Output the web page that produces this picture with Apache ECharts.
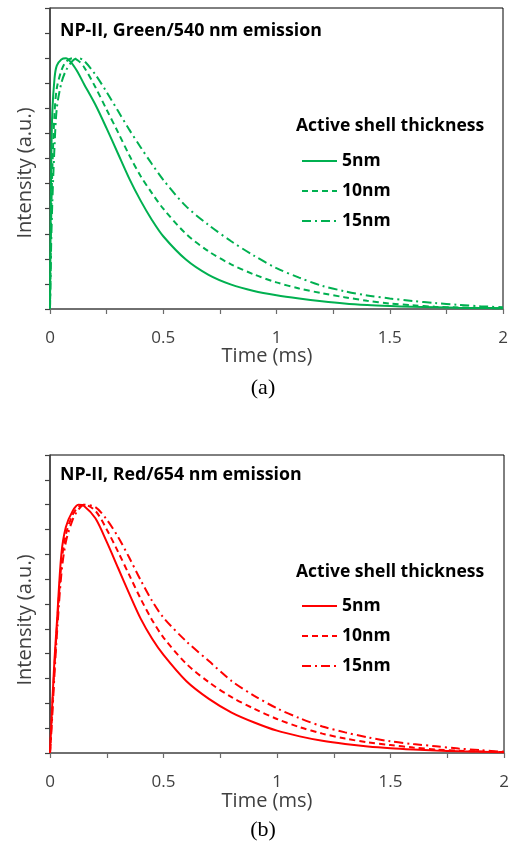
<!DOCTYPE html>
<html>
<head>
<meta charset="utf-8">
<script src="https://cdn.jsdelivr.net/npm/echarts@6/dist/echarts.min.js"></script>
<style>
html,body{margin:0;padding:0;background:#fff;}
#chart{width:514px;height:849px;}
</style>
</head>
<body>
<div id="chart"></div>
<script>
// ---- Data (time in ms, intensity normalized) ----
var timeMs = [0, 0.005, 0.01, 0.02, 0.03, 0.05, 0.07, 0.1, 0.125, 0.15, 0.2, 0.25, 0.3, 0.35, 0.4, 0.45, 0.5, 0.6, 0.7, 0.8, 0.9, 1.0, 1.1, 1.2, 1.3, 1.4, 1.5, 1.6, 1.7, 1.8, 1.9, 2.0];

var green5nm  = [0, 0.55, 0.78, 0.92, 0.97, 0.995, 1.0, 0.975, 0.94, 0.897, 0.815, 0.72, 0.62, 0.52, 0.432, 0.355, 0.29, 0.197, 0.136, 0.097, 0.072, 0.055, 0.042, 0.031, 0.022, 0.016, 0.012, 0.009, 0.007, 0.005, 0.004, 0.003];
var green10nm = [0, 0.35, 0.55, 0.78, 0.88, 0.95, 0.985, 1.0, 0.99, 0.965, 0.885, 0.795, 0.705, 0.613, 0.53, 0.462, 0.40, 0.30, 0.23, 0.178, 0.138, 0.106, 0.082, 0.063, 0.047, 0.033, 0.022, 0.015, 0.009, 0.006, 0.004, 0.003];
var green15nm = [0, 0.25, 0.42, 0.65, 0.80, 0.90, 0.95, 0.99, 1.0, 0.99, 0.935, 0.865, 0.79, 0.715, 0.645, 0.578, 0.515, 0.41, 0.335, 0.27, 0.213, 0.163, 0.125, 0.093, 0.071, 0.054, 0.042, 0.032, 0.024, 0.017, 0.011, 0.007];

var red5nm  = [0, 0.1, 0.2, 0.38, 0.52, 0.8, 0.91, 0.975, 1.0, 0.995, 0.945, 0.85, 0.745, 0.64, 0.54, 0.46, 0.395, 0.29, 0.218, 0.163, 0.123, 0.09, 0.067, 0.049, 0.036, 0.026, 0.019, 0.014, 0.010, 0.007, 0.005, 0.003];
var red10nm = [0, 0.09, 0.18, 0.35, 0.50, 0.76, 0.88, 0.96, 0.99, 1.0, 0.975, 0.90, 0.81, 0.715, 0.62, 0.535, 0.465, 0.36, 0.285, 0.225, 0.178, 0.137, 0.104, 0.078, 0.058, 0.043, 0.032, 0.022, 0.014, 0.009, 0.006, 0.004];
var red15nm = [0, 0.07, 0.15, 0.32, 0.47, 0.72, 0.85, 0.94, 0.98, 1.0, 0.99, 0.94, 0.87, 0.785, 0.695, 0.612, 0.545, 0.45, 0.37, 0.29, 0.23, 0.18, 0.14, 0.107, 0.083, 0.063, 0.047, 0.036, 0.027, 0.018, 0.011, 0.005];

var seriesNames = ['5nm', '10nm', '15nm'];
var panelTitles = ['NP-II, Green/540 nm emission', 'NP-II, Red/654 nm emission'];
var panelLabels = ['(a)', '(b)'];
var legendTitle = 'Active shell thickness';
var xAxisName = 'Time (ms)';
var yAxisName = 'Intensity (a.u.)';

// ---- Styling ----
var GREEN = '#00B050', RED = '#FF0000';
var dashTypes = ['solid', [6, 4], [9, 4, 2, 4]];
function pairs(vals){ return timeMs.map(function(t,i){ return [t, vals[i]]; }); }

var chart = echarts.init(document.getElementById('chart'), null, {renderer:'canvas'});

var grids = [
  {left:50, top:8, width:453, height:301, show:true, borderColor:'#000', borderWidth:1},
  {left:50, top:455, width:454, height:298, show:true, borderColor:'#000', borderWidth:1}
];

function xAx(gi){
  return {
    type:'value', gridIndex:gi, min:0, max:2, interval:0.5,
    axisLine:{show:true, onZero:false, lineStyle:{color:'#6b6b6b', width:1.5}},
    axisTick:{show:true, inside:false, length:5, lineStyle:{color:'#6b6b6b', width:1.2}},
    minorTick:{show:true, splitNumber:2, length:5, lineStyle:{color:'#6b6b6b', width:1.2}},
    axisLabel:{show:true, margin:21, color:'#404040', fontFamily:'Open Sans', fontSize:17,
      formatter:function(v){ return String(v); }},
    splitLine:{show:false}, minorSplitLine:{show:false}
  };
}
function yAx(gi){
  return {
    type:'value', gridIndex:gi, min:0, max:1.2, interval:0.1,
    axisLine:{show:true, onZero:false, lineStyle:{color:'#404040', width:1.5}},
    axisTick:{show:true, inside:false, length:5, lineStyle:{color:'#404040', width:1.2}},
    axisLabel:{show:false}, splitLine:{show:false}
  };
}

var panels = [
  {color:GREEN, data:[green5nm, green10nm, green15nm], prefix:'G '},
  {color:RED, data:[red5nm, red10nm, red15nm], prefix:'R '}
];

var series = [];
panels.forEach(function(p, gi){
  p.data.forEach(function(vals, si){
    series.push({
      name: p.prefix + seriesNames[si],
      type:'line', xAxisIndex:gi, yAxisIndex:gi,
      data: pairs(vals), symbol:'none', showSymbol:false,
      smooth:0.3,
      lineStyle:{color:p.color, width:2, type:dashTypes[si]},
      itemStyle:{color:p.color},
      z: 3 - si
    });
  });
});

var legendCommon = {
  orient:'vertical', left:296, itemWidth:35, itemHeight:14, itemGap:12,
  selectedMode:false,
  itemStyle:{color:'transparent', borderColor:'transparent', borderWidth:0},
  formatter:function(n){ return n.slice(2); },
  textStyle:{color:'#000', fontFamily:'Open Sans', fontWeight:'bold', fontSize:17.5, padding:[0,0,0,0]}
};
var legends = [
  Object.assign({}, legendCommon, {top:147, data:seriesNames.map(function(n){return 'G '+n;})}),
  Object.assign({}, legendCommon, {top:592, data:seriesNames.map(function(n){return 'R '+n;})})
];

function txt(x, y, text, opts){
  return {type:'text', x:x, y:y, rotation:opts.rotation||0, z:10,
    style:Object.assign({text:text, fill:'#000', textAlign:opts.align||'left', textVerticalAlign:'middle',
      fontFamily:'Open Sans', fontSize:17, fontWeight:'normal'}, opts.style||{})};
}

var graphics = [
  txt(60, 31, panelTitles[0], {style:{fontWeight:'bold', fontSize:17.8}}),
  txt(60, 475, panelTitles[1], {style:{fontWeight:'bold', fontSize:17.8}}),
  txt(296, 126, legendTitle, {style:{fontWeight:'bold', fontSize:17.5}}),
  txt(296, 572, legendTitle, {style:{fontWeight:'bold', fontSize:17.5}}),
  txt(267, 356, xAxisName, {align:'center', style:{fontSize:20, fill:'#404040'}}),
  txt(267, 801, xAxisName, {align:'center', style:{fontSize:20, fill:'#404040'}}),
  txt(25, 173, yAxisName, {align:'center', rotation:Math.PI/2, style:{fontSize:20, fill:'#404040'}}),
  txt(25, 620, yAxisName, {align:'center', rotation:Math.PI/2, style:{fontSize:20, fill:'#404040'}}),
  txt(263, 388, panelLabels[0], {align:'center', style:{fontFamily:'Liberation Serif', fontSize:22}}),
  txt(263, 830, panelLabels[1], {align:'center', style:{fontFamily:'Liberation Serif', fontSize:22}})
];

chart.setOption({
  animation:false,
  backgroundColor:'#fff',
  grid:grids,
  xAxis:[xAx(0), xAx(1)],
  yAxis:[yAx(0), yAx(1)],
  legend:legends,
  series:series,
  graphic:graphics
});
</script>
</body>
</html>
